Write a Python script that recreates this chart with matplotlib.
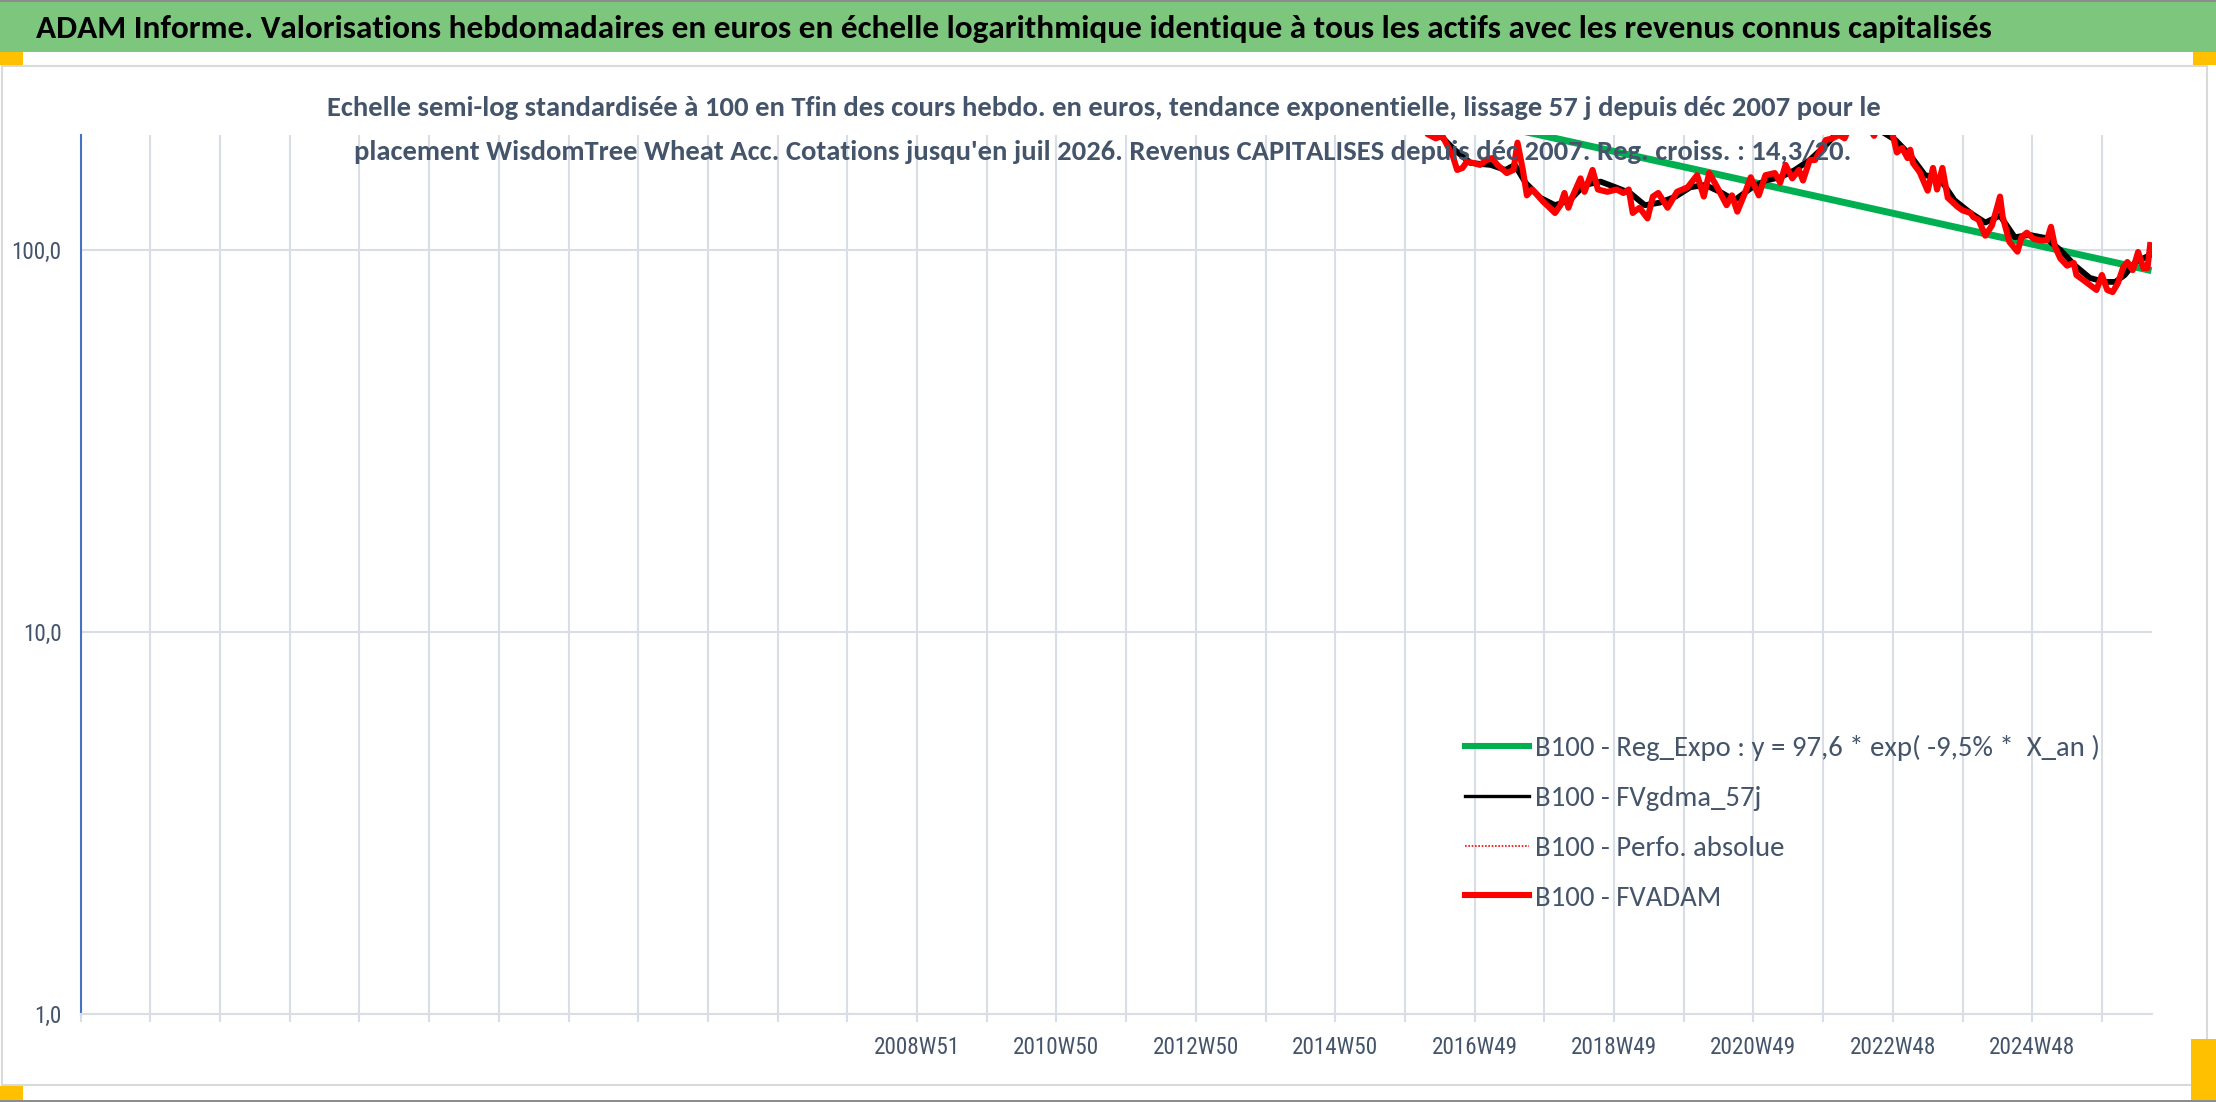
import matplotlib
matplotlib.use("Agg")
import matplotlib.pyplot as plt
from matplotlib import font_manager
from matplotlib.font_manager import FontProperties
from matplotlib.patches import Rectangle
from matplotlib.lines import Line2D
from matplotlib.ticker import NullLocator

W, H, DPI = 2216, 1102, 100
PT = DPI / 72.0

_names = {f.name for f in font_manager.fontManager.ttflist}
def pick(*cands):
    for n in cands:
        if n in _names:
            return n
    return "DejaVu Sans"
MAIN = pick("Carlito", "Lato", "Liberation Sans")
NARROW = pick("Liberation Sans Narrow", "Roboto Condensed", "DejaVu Sans Condensed", "Liberation Sans")

# ---------------- data ----------------
title = ("ADAM Informe. Valorisations hebdomadaires en euros en échelle logarithmique "
         "identique à tous les actifs avec les revenus connus capitalisés")
subtitle_1 = ("Echelle semi-log standardisée à 100 en Tfin des cours hebdo. en euros, tendance "
              "exponentielle, lissage 57 j depuis déc 2007 pour le")
subtitle_2 = ("placement WisdomTree Wheat Acc. Cotations jusqu'en juil 2026. Revenus CAPITALISES "
              "depuis déc 2007. Reg. croiss. : 14,3/20.")

n_weeks = 1545.6            # categories on the axis (week index)
tick_step = 52              # one gridline per 52 weeks
label_weeks = [624, 728, 832, 936, 1040, 1144, 1248, 1352, 1456]
tick_labels = ["2008W51", "2010W50", "2012W50", "2014W50", "2016W49",
               "2018W49", "2020W49", "2022W48", "2024W48"]

y_ticks = [1, 10, 100]
y_tick_labels = ["1,0", "10,0", "100,0"]

# FVADAM (red)
red_weeks = [996, 1005, 1011, 1016, 1024, 1027, 1031, 1034, 1039, 1044, 1049, 1053, 1057, 1064,
             1069, 1072, 1076, 1079, 1083, 1087, 1091, 1096, 1100, 1104, 1107, 1110, 1113, 1119,
             1122, 1128, 1132, 1139, 1146, 1151, 1155, 1158, 1163, 1169, 1173, 1177, 1184, 1191,
             1199, 1206, 1211, 1215, 1221, 1228, 1232, 1236, 1241, 1246, 1252, 1257, 1264, 1268,
             1272, 1277, 1282, 1285, 1290, 1294, 1297, 1302, 1307, 1312, 1316, 1326, 1338, 1346,
             1352, 1355, 1359, 1363, 1365, 1367, 1372, 1378, 1382, 1385, 1389, 1393, 1395, 1400,
             1404, 1410, 1412, 1416, 1421, 1426, 1430, 1432, 1434, 1439, 1445, 1448, 1452, 1457,
             1462, 1467, 1470, 1473, 1477, 1482, 1487, 1489, 1494, 1499, 1504, 1508, 1512, 1516,
             1520, 1524, 1527, 1531, 1535, 1539, 1542, 1544]
red_values = [240, 201, 196, 199, 175, 162, 164, 170, 169, 167, 172, 174, 167, 159,
              162, 191, 162, 139, 144, 139, 134, 129, 125, 131, 141, 129, 138, 154,
              142, 162, 144, 142, 144, 141, 144, 125, 129, 121, 138, 141, 129, 142,
              146, 157, 138, 159, 146, 131, 139, 126, 139, 155, 139, 157, 159, 150,
              167, 154, 162, 152, 172, 172, 180, 194, 196, 200, 196, 235, 199, 228,
              200, 180, 185, 174, 183, 169, 160, 143, 164, 144, 164, 137, 135, 130,
              127, 125, 122, 120, 109, 116, 130, 138, 122, 105, 99, 108, 111, 107,
              106, 106, 115, 102, 95, 91, 92.5, 86, 83.5, 81, 78.6, 86, 78.6, 77.6,
              82, 90.3, 93, 88.6, 98.8, 89.7, 89.7, 103]

# Perfo. absolue (red dotted) – same track as FVADAM
perf_weeks = red_weeks
perf_values = red_values

# FVgdma_57j (black, smoothed)
black_weeks = [996, 1014, 1025, 1037, 1052, 1063, 1070, 1078, 1089, 1100, 1111, 1122, 1134, 1145,
               1156, 1167, 1178, 1190, 1201, 1212, 1223, 1234, 1246, 1257, 1268, 1279, 1290, 1302,
               1309, 1322, 1340, 1354, 1365, 1376, 1387, 1398, 1410, 1421, 1432, 1443, 1454, 1466,
               1477, 1488, 1499, 1510, 1518, 1525, 1533, 1544]
black_values = [235, 200, 183, 169, 167, 162, 167, 150, 137, 131, 135, 148, 151, 146,
                141, 131, 133, 138, 146, 148, 142, 135, 145, 152, 155, 162, 172, 188,
                200, 212, 208, 194, 177, 157, 154, 135, 125, 118, 123, 108, 109.5, 107.5,
                100, 91, 84.5, 82.5, 82.5, 86, 93, 97]

# Reg_Expo (green), straight on the log scale
reg_weeks = [572, 1545]
reg_values = [505, 88.3]

labels = ["B100 - Reg_Expo : y = 97,6 * exp( -9,5% *  X_an )",
          "B100 - FVgdma_57j",
          "B100 - Perfo. absolue",
          "B100 - FVADAM"]

# ---------------- style ----------------
GREEN_BAR = "#7DC67D"
ORANGE = "#FFC000"
GRID = "#D9DEE6"
TXT = "#44546A"
RED = "#FF0000"
GREEN = "#00B050"
BLUE = "#4472C4"

fig = plt.figure(figsize=(W / DPI, H / DPI), dpi=DPI)
fig.patch.set_facecolor("white")
renderer = fig.canvas.get_renderer()

def fx(px):
    return px / W

def fy(py):
    return 1 - py / H

def rect(x0, y0, x1, y1, **kw):
    fig.add_artist(Rectangle((fx(x0), fy(y1)), (x1 - x0) / W, (y1 - y0) / H,
                             transform=fig.transFigure, **kw))

def text_width(s, family, size, weight="normal"):
    t = fig.text(0, 0, s, family=family, size=size, weight=weight)
    w = t.get_window_extent(renderer).width
    t.remove()
    return w

def fit_size(s, family, target, weight="normal"):
    return 20.0 * target / text_width(s, family, 20, weight)

# decorations
rect(0, 0, W, 2, facecolor="#8C8C8C", edgecolor="none")
rect(0, 1100, W, H, facecolor="#8C8C8C", edgecolor="none")
rect(0, 2, W, 52, facecolor=GREEN_BAR, edgecolor="none")
rect(2, 66, 2207, 1085, fill=False, edgecolor="#D9D9D9", linewidth=1.5)
rect(0, 52, 23, 65, facecolor=ORANGE, edgecolor="none")
rect(2193, 52, W, 65, facecolor=ORANGE, edgecolor="none")
rect(0, 1086, 23, 1100, facecolor=ORANGE, edgecolor="none")
rect(2191, 1039, W, 1100, facecolor=ORANGE, edgecolor="none")

# title
fs_title = fit_size(title, MAIN, 1955, "bold")
fig.text(fx(36), fy(29), title, family=MAIN, size=fs_title, weight="bold", color="black",
         ha="left", va="center")

# subtitle
fs_sub = fit_size(subtitle_1, MAIN, 1556, "bold")
fig.text(fx(1104), fy(108), subtitle_1, family=MAIN, size=fs_sub, weight="bold",
         color=TXT, ha="center", va="center", zorder=10)
fig.text(fx(1103), fy(152), subtitle_2, family=MAIN, size=fs_sub, weight="bold",
         color=TXT, ha="center", va="center", zorder=10)

# axes
L, R, T, B = 80.6, 2152.3, 135, 1014
ax = fig.add_axes([fx(L), fy(B), (R - L) / W, (B - T) / H])
ax.set_facecolor("none")
ax.set_yscale("log")
ax.set_ylim(1, 200)
ax.set_xlim(0, n_weeks)

ax.plot(reg_weeks, reg_values, color=GREEN, lw=5.0, solid_capstyle="butt", zorder=2)
ax.plot(black_weeks, black_values, color="black", lw=4.2, zorder=3)
ax.plot(perf_weeks, perf_values, color=RED, lw=1.2, ls=(0, (1, 1)), zorder=4)
ax.plot(red_weeks, red_values, color=RED, lw=4.4, zorder=5)

ticks = list(range(0, int(n_weeks), tick_step))
tlabels = [tick_labels[label_weeks.index(t)] if t in label_weeks else "" for t in ticks]
ax.set_xticks(ticks)
ax.set_xticklabels(tlabels)
ax.set_yticks(y_ticks)
ax.set_yticklabels(y_tick_labels)
ax.yaxis.set_minor_locator(NullLocator())
ax.xaxis.set_minor_locator(NullLocator())

fs_tick = fit_size("2008W51", NARROW, 86)
ax.tick_params(axis="x", direction="out", length=8 / PT, width=1.5, color=GRID,
               pad=10, labelsize=fs_tick, labelcolor=TXT, labelfontfamily=NARROW)
ax.tick_params(axis="y", length=0, pad=19 / PT, labelsize=fs_tick, labelcolor=TXT,
               labelfontfamily=NARROW)
ax.grid(True, which="major", color=GRID, lw=1.5)
ax.set_axisbelow(True)
for s in ("top", "right"):
    ax.spines[s].set_visible(False)
ax.spines["left"].set_color(BLUE)
ax.spines["left"].set_linewidth(1.5)
ax.spines["bottom"].set_color(GRID)
ax.spines["bottom"].set_linewidth(1.5)

# legend
handles = [Line2D([], [], color=GREEN, lw=4.4),
           Line2D([], [], color="black", lw=2.4),
           Line2D([], [], color=RED, lw=1.2, ls=(0, (1, 1))),
           Line2D([], [], color=RED, lw=4.4)]
fs_leg = fit_size(labels[0], MAIN, 564)
fs_px = fs_leg * PT
prop = FontProperties(family=MAIN, size=fs_leg)

def make_legend(anchor, ls):
    return ax.legend(handles, labels, loc="upper left", bbox_to_anchor=anchor,
                     bbox_transform=fig.transFigure, frameon=False, prop=prop,
                     labelcolor=TXT, borderpad=0, borderaxespad=0,
                     handlelength=64 / fs_px, handletextpad=6 / fs_px, labelspacing=ls)

def text_boxes(leg):
    fig.canvas.draw()
    r = fig.canvas.get_renderer()
    return [t.get_window_extent(r) for t in leg.get_texts()]

anchor = (fx(1465), fy(725))
ls = 0.8
leg = make_legend(anchor, ls)
for _ in range(2):
    ext = text_boxes(leg)
    cys = [(e.y0 + e.y1) / 2 for e in ext]
    pitch = (cys[0] - cys[-1]) / 3.0
    ls = max(0.0, ls + (50 - pitch) / fs_px)
    leg = make_legend(anchor, ls)
    ext = text_boxes(leg)
    dx = 1535 - ext[0].x0
    dy = (H - 748) - (ext[0].y0 + ext[0].y1) / 2
    anchor = (anchor[0] + dx / W, anchor[1] + dy / H)
    leg = make_legend(anchor, ls)

fig.savefig("out.png", dpi=DPI, facecolor="white")
